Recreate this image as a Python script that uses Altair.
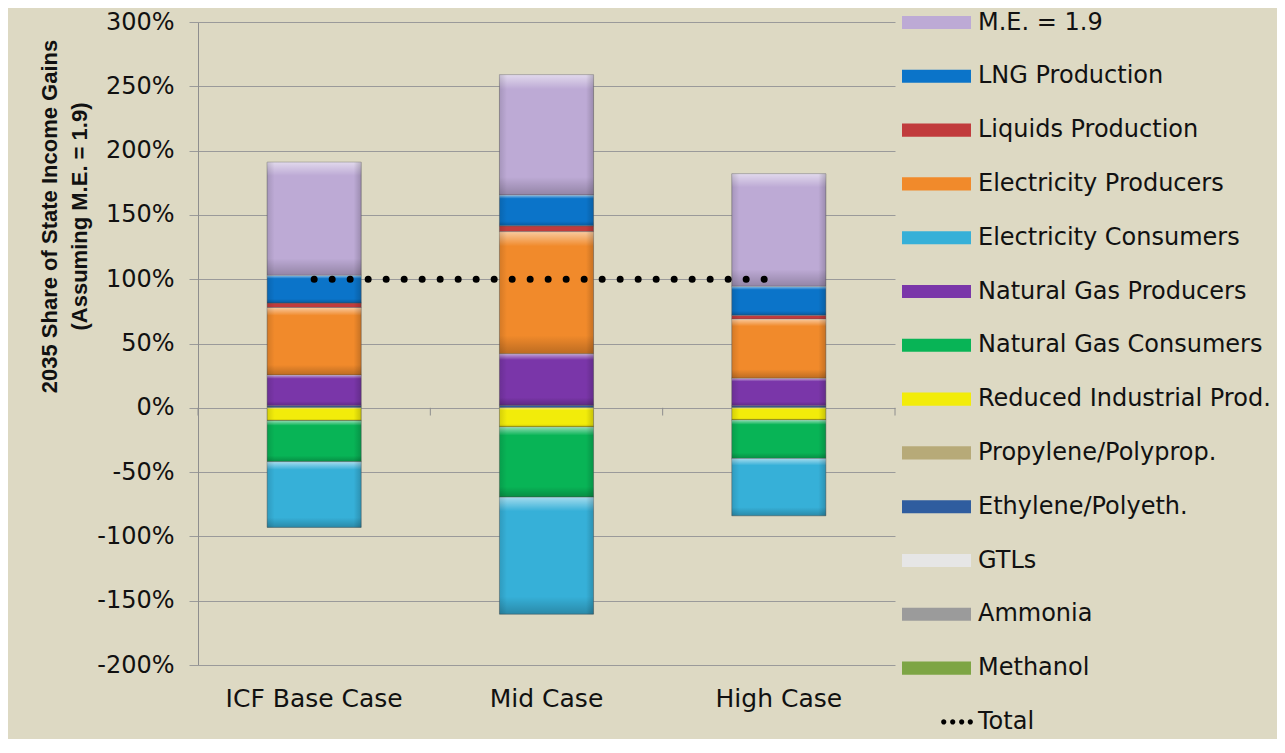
import altair as alt
import pandas as pd

FONT = "DejaVu Sans"

cases = ["ICF Base Case", "Mid Case", "High Case"]

# stacking order: first name sits next to the zero line
series_names = [
    "Methanol", "Ammonia", "GTLs", "Ethylene/Polyeth.", "Propylene/Polyprop.",
    "Reduced Industrial Prod.", "Natural Gas Consumers", "Natural Gas Producers",
    "Electricity Consumers", "Electricity Producers", "Liquids Production",
    "LNG Production", "M.E. = 1.9",
]

methanol = [0, 0, 0]
ammonia = [0, 0, 0]
gtls = [0, 0, 0]
ethylene = [1.5, 2, 1.5]
propylene = [0, 0, 0]
reduced_industrial = [-10, -15, -9.5]
ng_consumers = [-32, -54.5, -30]
ng_producers = [24, 40, 21.5]
elec_consumers = [-51, -91, -44.5]
elec_producers = [52.5, 95, 46]
liquids = [3.5, 4.5, 3]
lng = [21.5, 24, 22.5]
me_19 = [88, 93.5, 87.5]
total = [100, 100, 100]

series_values = [
    methanol, ammonia, gtls, ethylene, propylene, reduced_industrial,
    ng_consumers, ng_producers, elec_consumers, elec_producers, liquids,
    lng, me_19,
]

series_colors = [
    "#7DA544", "#9B9B9B", "#E6E6E6", "#2F5D9F", "#B7AA78", "#F2EC0A",
    "#08B456", "#7A36A9", "#36B0D8", "#F18A2B", "#C13B3C", "#0B74C9",
    "#BDAAD5",
]

y_ticks = [-200, -150, -100, -50, 0, 50, 100, 150, 200, 250, 300]

legend_order = list(reversed(series_names)) + ["Total"]
legend_colors = list(reversed(series_colors)) + ["#000000"]

rows = []
for idx, (name, vals) in enumerate(zip(series_names, series_values)):
    for case, v in zip(cases, vals):
        if v != 0:
            rows.append({"case": case, "series": name, "value": v, "idx": idx})
df = pd.DataFrame(rows)
total_df = pd.DataFrame({"case": cases, "value": total})

# legend symbols
rect_path = "M-2,-0.38L2,-0.38L2,0.38L-2,0.38Z"
dot_r = 0.15
dot_x = [0.42, 0.94, 1.46, 1.96]
dots_path = "".join(
    f"M{x - dot_r:.2f},0A{dot_r},{dot_r} 0 1,0 {x + dot_r:.2f},0A{dot_r},{dot_r} 0 1,0 {x - dot_r:.2f},0Z"
    for x in dot_x
)
shape_expr = f"datum.value === 'Total' ? '{dots_path}' : '{rect_path}'"

legend = alt.Legend(
    title=None, orient="none", legendX=721, legendY=-17, direction="vertical",
    symbolType={"expr": shape_expr}, symbolSize=1190, symbolStrokeWidth=0,
    labelFont=FONT, labelFontSize=24, labelColor="#111111", labelOffset=24,
    labelLimit=400, rowPadding=23.8, padding=0,
)

x_scale = alt.Scale(type="band", domain=cases, paddingInner=0, paddingOuter=0)
x_axis = alt.Axis(
    title=None, domain=False, ticks=False, grid=False, labelAngle=0,
    labelFont=FONT, labelFontSize=25, labelColor="#111111", labelPadding=21,
)


def xenc(bp=None):
    kw = dict(sort=cases, scale=x_scale, axis=x_axis)
    if bp is not None:
        kw["bandPosition"] = bp
    return alt.X("case:N", **kw)


y_scale = alt.Scale(domain=[-200, 300], nice=False)
y_axis = alt.Axis(
    title=["2035 Share of State Income Gains", "(Assuming M.E. = 1.9)"],
    titleFont="Liberation Sans", titleFontSize=22, titleFontWeight="bold",
    titleColor="#111111", titleAngle=270, titleAlign="center",
    titleBaseline="middle", titleLineHeight=30, titleX=-149, titleY=194,
    values=y_ticks, labelExpr="datum.value + '%'",
    labelFont=FONT, labelFontSize=24, labelColor="#111111", labelPadding=15,
    tickSize=9, tickColor="#9A9A9A", domainColor="#8E8E8E",
    grid=True, gridColor="#9A9A9A", gridWidth=1,
)


def yenc():
    return alt.Y("value:Q", stack="zero", scale=y_scale, axis=y_axis)


order = alt.Order("idx:Q", sort="ascending")
bar_w = alt.RelativeBandSize(0.405)

bars = alt.Chart(df).mark_bar(
    width=bar_w, stroke="#555555", strokeWidth=0.8, strokeOpacity=0.6
).encode(
    x=xenc(),
    y=yenc(),
    color=alt.Color("series:N", scale=alt.Scale(domain=legend_order, range=legend_colors), legend=legend),
    order=order,
)

grad_v = alt.Gradient(
    gradient="linear", x1=0, x2=0, y1=0, y2=1,
    stops=[
        alt.GradientStop(color="rgba(255,255,255,0.55)", offset=0),
        alt.GradientStop(color="rgba(255,255,255,0.0)", offset=0.12),
        alt.GradientStop(color="rgba(0,0,0,0.0)", offset=0.85),
        alt.GradientStop(color="rgba(0,0,0,0.22)", offset=1),
    ],
)
grad_h = alt.Gradient(
    gradient="linear", x1=0, x2=1, y1=0, y2=0,
    stops=[
        alt.GradientStop(color="rgba(0,0,0,0.12)", offset=0),
        alt.GradientStop(color="rgba(0,0,0,0.0)", offset=0.08),
        alt.GradientStop(color="rgba(0,0,0,0.0)", offset=0.92),
        alt.GradientStop(color="rgba(0,0,0,0.18)", offset=1),
    ],
)

bevel_v = alt.Chart(df).mark_bar(width=bar_w, fill=grad_v).encode(
    x=xenc(), y=yenc(), detail="series:N", order=order
)
bevel_h = alt.Chart(df).mark_bar(width=bar_w, fill=grad_h).encode(
    x=xenc(), y=yenc(), detail="series:N", order=order
)

tick_df_l = pd.DataFrame({"case": cases})
tick_df_r = pd.DataFrame({"case": cases[-1:]})
ticks_l = alt.Chart(tick_df_l).mark_rule(color="#8E8E8E", strokeWidth=1).encode(
    x=xenc(0), y=alt.YDatum(0, scale=y_scale, axis=y_axis), y2=alt.Y2Datum(-6)
)
ticks_r = alt.Chart(tick_df_r).mark_rule(color="#8E8E8E", strokeWidth=1).encode(
    x=xenc(1), y=alt.YDatum(0, scale=y_scale, axis=y_axis), y2=alt.Y2Datum(-6)
)

total_line = alt.Chart(total_df).mark_line(
    color="#000000", strokeWidth=7, strokeDash=[0, 18], strokeCap="round"
).encode(
    x=xenc(0.5),
    y=alt.Y("value:Q", scale=y_scale, axis=y_axis),
)

chart = alt.layer(ticks_l, ticks_r, bars, bevel_v, bevel_h, total_line).properties(
    width=697, height=643,
    autosize=alt.AutoSizeParams(type="none"),
    padding={"left": 190, "top": 14, "right": 382, "bottom": 74},
).configure(
    background="#DDD9C3", font=FONT,
).configure_view(strokeWidth=0)

chart.save("out.html", embed_options={"renderer": "svg", "actions": False})
